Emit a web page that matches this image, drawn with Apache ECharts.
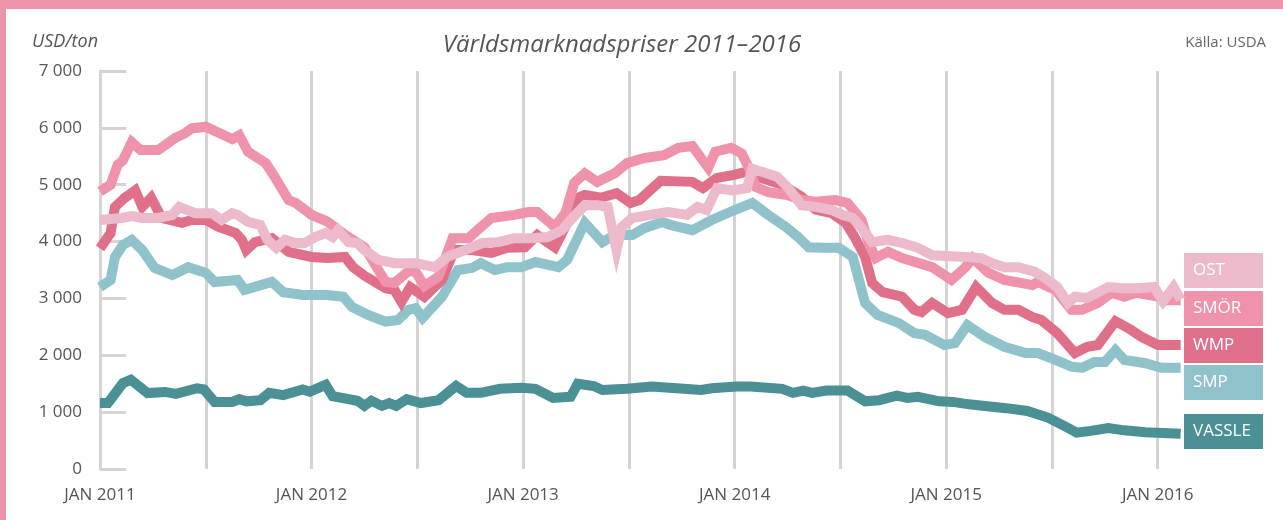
<!DOCTYPE html>
<html>
<head>
<meta charset="utf-8">
<script src="https://cdn.jsdelivr.net/npm/echarts@6/dist/echarts.min.js"></script>
<style>
  html, body { margin: 0; padding: 0; background: #fff; }
  #chart { width: 1283px; height: 520px; }
</style>
</head>
<body>
<div id="chart"></div>
<script>
// x = months after JAN 2011, y = USD/ton
var ost = [
  [0, 4380], [1.25, 4415], [1.8, 4450], [2.4, 4415], [3.3, 4415], [4.1, 4470], [4.5, 4610],
  [5.4, 4500], [6.35, 4500], [6.9, 4380], [7.5, 4500], [7.8, 4470], [8.4, 4345], [9.1, 4290],
  [9.5, 4030], [10.0, 3890], [10.5, 4030], [11.1, 3975], [11.6, 3975], [12.2, 4080], [12.8, 4150],
  [13.2, 4080], [13.5, 4200], [14.1, 3990], [14.6, 3975], [15.0, 3850], [15.8, 3680], [16.7, 3620],
  [17.9, 3620], [19.0, 3550], [19.7, 3730], [20.7, 3850], [21.7, 3975], [22.6, 3990], [23.5, 4060],
  [24.5, 4060], [25.4, 4080], [26.2, 4200], [26.8, 4415], [27.5, 4640], [28.2, 4640], [28.8, 4610],
  [29.3, 3850], [29.6, 4257], [30.2, 4415], [31.2, 4470], [32.2, 4520], [33.3, 4470], [33.9, 4610],
  [34.4, 4555], [35.0, 4940], [35.9, 4900], [36.7, 4940], [37.0, 5280], [38.4, 5140], [39.0, 4960],
  [39.8, 4640], [40.6, 4610], [41.5, 4555], [42.1, 4470], [42.7, 4415], [43.2, 4240], [43.8, 3990],
  [44.7, 4030], [45.5, 3975], [46.4, 3890], [47.2, 3760], [49.1, 3730], [50.0, 3710], [50.6, 3620],
  [51.3, 3550], [52.1, 3550], [53.0, 3470], [53.6, 3360], [54.3, 3200], [54.9, 2920], [55.3, 3030],
  [56.0, 3010], [57.2, 3200], [58.0, 3180], [58.9, 3180], [59.8, 3200], [60.3, 2950], [60.9, 3200],
  [61.3, 2980]
];
var smor = [
  [0, 4880], [0.6, 5000], [1.0, 5350], [1.3, 5430], [1.8, 5750], [2.3, 5610], [3.3, 5610],
  [4.25, 5820], [4.8, 5900], [5.2, 5990], [6.0, 6020], [7.1, 5860], [7.5, 5800], [7.9, 5870],
  [8.4, 5580], [9.4, 5380], [9.9, 5140], [10.7, 4730], [11.1, 4680], [12.0, 4470], [12.9, 4350],
  [13.9, 4120], [15.0, 3900], [16.2, 3290], [16.7, 3270], [17.5, 3480], [17.9, 3470], [18.4, 3220],
  [19.2, 3380], [20.0, 4060], [20.9, 4060], [21.4, 4200], [22.2, 4415], [23.5, 4470], [24.3, 4520],
  [24.8, 4520], [25.8, 4260], [26.4, 4500], [26.9, 5030], [27.5, 5200], [28.2, 5050], [29.2, 5200],
  [29.9, 5380], [30.9, 5470], [32.0, 5520], [32.8, 5650], [33.6, 5680], [34.5, 5300], [34.9, 5580],
  [35.8, 5650], [36.4, 5550], [36.8, 5300], [37.2, 4960], [37.9, 4870], [39.0, 4820], [39.8, 4730],
  [40.6, 4700], [41.7, 4730], [42.4, 4680], [43.2, 4380], [43.6, 3975], [44.0, 3710], [44.7, 3820],
  [45.5, 3710], [47.2, 3550], [48.3, 3325], [49.1, 3550], [49.5, 3710], [50.4, 3450], [51.3, 3325],
  [52.9, 3235], [53.2, 3290], [54.2, 3150], [55.1, 2800], [55.7, 2800], [56.6, 2920], [57.4, 3100],
  [58.1, 3030], [58.8, 3100], [60.1, 3030], [60.5, 2970], [61.3, 2970]
];
var wmp = [
  [0, 3880], [0.6, 4150], [0.85, 4610], [1.4, 4770], [2.0, 4900], [2.4, 4610], [2.9, 4770],
  [3.5, 4415], [4.65, 4330], [5.2, 4380], [6.0, 4380], [6.7, 4260], [7.7, 4150], [8.05, 4030],
  [8.3, 3850], [8.8, 3990], [9.75, 4060], [10.7, 3820], [12.0, 3730], [12.9, 3710], [13.9, 3730],
  [14.35, 3550], [15.0, 3400], [16.2, 3180], [16.7, 3150], [17.1, 2940], [17.6, 3200], [18.4, 3030],
  [19.4, 3325], [20.1, 3850], [21.1, 3850], [22.2, 3800], [23.1, 3890], [24.1, 3900], [24.8, 4115],
  [25.8, 3900], [26.5, 4330], [27.1, 4770], [27.5, 4820], [28.4, 4770], [29.3, 4850], [30.1, 4680],
  [30.6, 4730], [31.8, 5070], [33.6, 5050], [34.2, 4940], [35.0, 5120], [35.9, 5170], [36.8, 5240],
  [37.5, 5120], [38.7, 5000], [39.8, 4790], [40.6, 4560], [41.5, 4500], [42.3, 4330], [42.8, 4080],
  [43.4, 3730], [43.8, 3270], [44.4, 3110], [45.5, 3030], [46.2, 2800], [46.6, 2760], [47.2, 2920],
  [48.1, 2740], [48.9, 2800], [49.7, 3200], [50.6, 2920], [51.3, 2800], [52.1, 2800], [52.9, 2670],
  [53.4, 2620], [54.3, 2390], [55.3, 2040], [56.0, 2150], [56.6, 2180], [57.6, 2600], [58.5, 2445],
  [59.1, 2320], [60.0, 2180], [61.3, 2180]
];
var smp = [
  [0, 3200], [0.6, 3325], [0.85, 3730], [1.3, 3940], [1.8, 4030], [2.4, 3850], [3.1, 3535],
  [4.1, 3410], [5.0, 3550], [6.0, 3450], [6.5, 3290], [7.8, 3325], [8.2, 3150], [9.75, 3290],
  [10.4, 3110], [11.5, 3060], [12.9, 3060], [13.8, 3030], [14.3, 2850], [15.2, 2710], [16.2, 2590],
  [16.9, 2620], [17.5, 2800], [17.9, 2830], [18.3, 2660], [19.4, 3030], [20.3, 3500], [21.1, 3535],
  [21.6, 3620], [22.4, 3500], [23.1, 3550], [23.9, 3550], [24.7, 3640], [26.0, 3550], [26.5, 3680],
  [27.5, 4330], [28.5, 3990], [29.2, 4115], [30.2, 4115], [30.9, 4240], [31.9, 4345], [32.4, 4290],
  [33.6, 4200], [34.7, 4380], [36.0, 4555], [37.0, 4680], [37.9, 4470], [38.9, 4257], [39.6, 4080],
  [40.2, 3900], [41.0, 3890], [41.9, 3890], [42.7, 3730], [43.4, 2920], [44.1, 2710], [45.3, 2570],
  [46.2, 2390], [46.8, 2360], [47.9, 2180], [48.5, 2215], [49.2, 2530], [50.2, 2320], [51.3, 2150],
  [52.5, 2040], [53.2, 2040], [54.2, 1920], [55.1, 1800], [55.7, 1780], [56.4, 1880], [57.0, 1880],
  [57.6, 2090], [58.1, 1920], [59.3, 1860], [60.2, 1780], [61.3, 1780]
];
var vassle = [
  [0, 1160], [0.45, 1160], [1.3, 1510], [1.75, 1570], [2.7, 1335], [3.7, 1355], [4.3, 1320],
  [5.5, 1420], [5.9, 1400], [6.5, 1180], [7.5, 1180], [7.9, 1230], [8.3, 1190], [9.1, 1210],
  [9.6, 1340], [10.4, 1300], [11.5, 1400], [11.9, 1360], [12.8, 1480], [13.2, 1280], [14.6, 1200],
  [15.0, 1110], [15.4, 1200], [16.0, 1110], [16.4, 1160], [16.8, 1110], [17.4, 1230], [18.2, 1160],
  [19.2, 1210], [20.2, 1460], [20.8, 1340], [21.6, 1340], [22.7, 1410], [23.9, 1430], [24.7, 1410],
  [25.7, 1250], [26.7, 1270], [27.1, 1500], [28.0, 1460], [28.5, 1390], [29.9, 1410], [31.3, 1450],
  [32.7, 1420], [34.1, 1390], [34.7, 1420], [36.1, 1450], [36.9, 1450], [38.7, 1410], [39.3, 1340],
  [39.9, 1380], [40.4, 1340], [41.2, 1380], [42.4, 1380], [43.4, 1190], [44.2, 1210], [45.2, 1290],
  [45.8, 1250], [46.4, 1270], [47.6, 1190], [48.4, 1180], [49.0, 1150], [49.8, 1120], [51.4, 1070],
  [52.6, 1020], [53.8, 900], [54.8, 740], [55.4, 640], [56.2, 670], [57.2, 720], [58.1, 680],
  [59.3, 645], [61.3, 620]
];

var names = ['OST', 'SMÖR', 'WMP', 'SMP', 'VASSLE'];
var colors = ['#edbacb', '#ee93ab', '#e0708a', '#8fc2cb', '#4a9094'];
var values = [ost, smor, wmp, smp, vassle];

var gridColor = '#d4d4d4';
var textColor = '#555';
var font = '"Open Sans", "Noto Sans", sans-serif';

// split lines at every half year, the last (axis max) one hidden
var splitColors = [];
for (var i = 0; i <= 10; i++) splitColors.push(gridColor);
splitColors.push('rgba(0,0,0,0)');

function fmtThousands(v) {
  return String(v).replace(/\B(?=(\d{3})+(?!\d))/g, ' ');
}

var series = [];
for (var k = values.length - 1; k >= 0; k--) {
  series.push({
    name: names[k],
    type: 'line',
    data: values[k],
    symbol: 'none',
    lineStyle: { color: colors[k], width: 10, join: 'miter' },
    z: 10 - k
  });
}

var graphics = [
  { type: 'rect', left: 0, top: 0, shape: { width: 1283, height: 9 }, style: { fill: '#ee94aa' } },
  { type: 'rect', left: 0, top: 0, shape: { width: 6, height: 520 }, style: { fill: '#ee94aa' } },
  { type: 'text', left: 32, top: 33, style: { text: 'USD/ton', font: 'italic 18px ' + font, fill: textColor } },
  { type: 'text', x: 622, y: 45, style: { text: 'Världsmarknadspriser 2011–2016', font: 'italic 24px ' + font, fill: textColor, align: 'center', verticalAlign: 'middle' } },
  { type: 'text', right: 17, top: 35, style: { text: 'Källa: USDA', font: '15px ' + font, fill: '#666' } }
];
// legend boxes on the right
var boxTops = [253, 291, 328, 365, 414];
names.forEach(function (n, idx) {
  graphics.push({
    type: 'group',
    left: 1184,
    top: boxTops[idx],
    children: [
      { type: 'rect', shape: { x: 0, y: 0, width: 79, height: 35 }, style: { fill: colors[idx] } },
      { type: 'text', x: 9, y: 17.5, style: { text: n, font: '17px ' + font, fill: '#fff', verticalAlign: 'middle' } }
    ]
  });
});

var chart = echarts.init(document.getElementById('chart'));
chart.setOption({
  animation: false,
  backgroundColor: '#fff',
  grid: { left: 100, right: 90, top: 71, bottom: 51 },
  xAxis: {
    type: 'value',
    min: 0,
    max: 62,
    interval: 6,
    axisLine: { show: false },
    axisTick: { show: false },
    splitLine: { show: true, lineStyle: { color: splitColors, width: 3 } },
    axisLabel: {
      color: textColor,
      fontSize: 17,
      fontFamily: font,
      margin: 18,
      formatter: function (v) {
        return v % 12 === 0 ? 'JAN ' + (2011 + v / 12) : '';
      }
    }
  },
  yAxis: {
    type: 'value',
    min: 0,
    max: 7000,
    interval: 1000,
    axisLine: { show: true, lineStyle: { color: gridColor, width: 3 } },
    axisTick: { show: true, inside: true, length: 26, lineStyle: { color: gridColor, width: 3 } },
    splitLine: { show: false },
    axisLabel: { color: textColor, fontSize: 17, fontFamily: font, margin: 18, formatter: fmtThousands }
  },
  graphic: graphics,
  series: series
});
</script>
</body>
</html>
